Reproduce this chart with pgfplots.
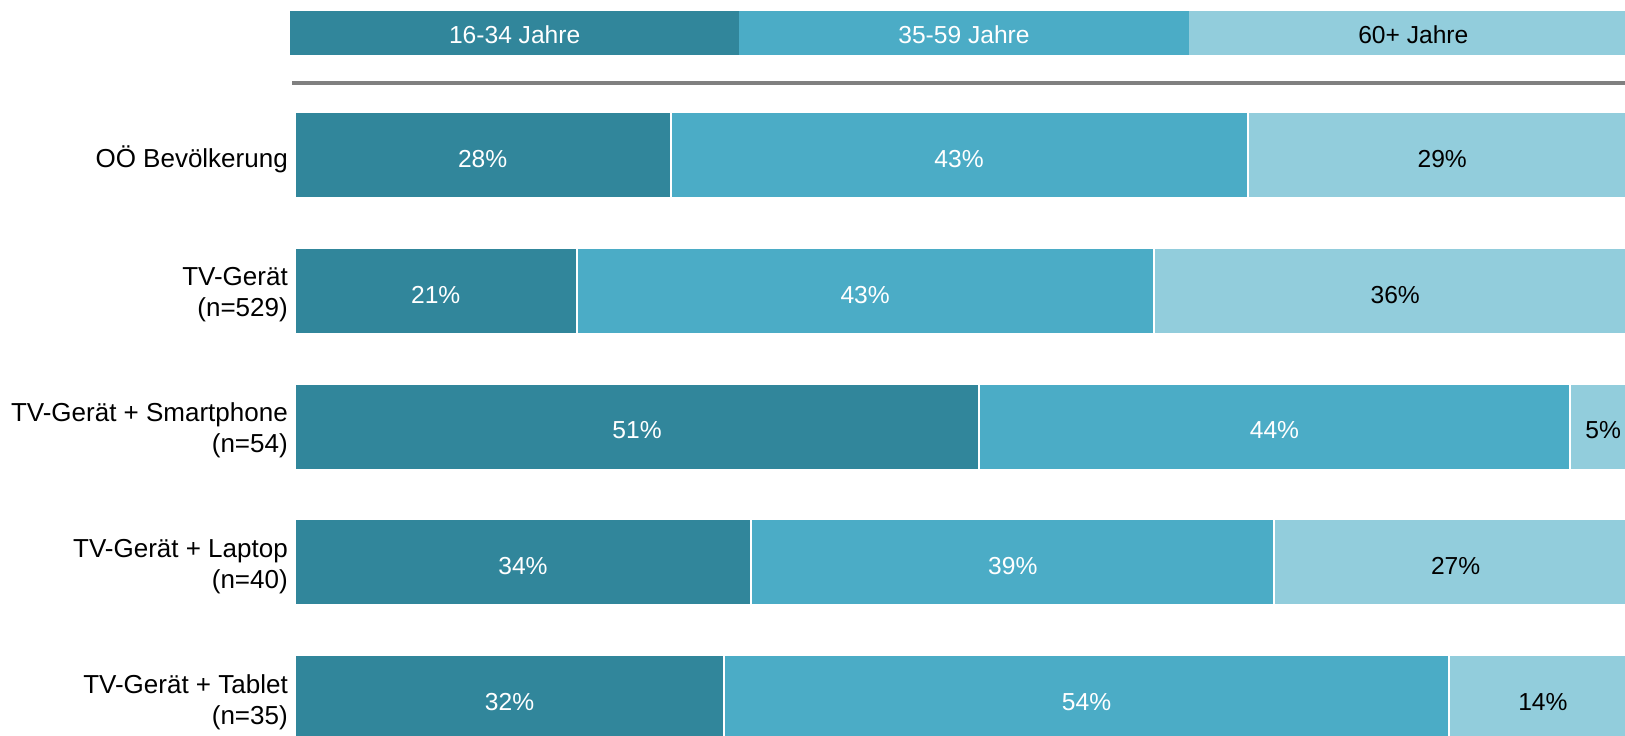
\documentclass[border=0pt]{standalone}
\usepackage{pgfplots}
\pgfplotsset{compat=1.18}
\usepackage{pgfplotstable}
\usepackage{fontspec}
\setmainfont{Liberation Sans}
\definecolor{cdark}{RGB}{49,134,155}
\definecolor{cmid}{RGB}{75,172,198}
\definecolor{clight}{RGB}{146,205,220}
\definecolor{cline}{RGB}{128,128,128}

\pgfplotstableread{
y a b c
0 28 43 29
1 21 43 36
2 51 44 5
3 34 39 27
4 32 54 14
}\datatab

\begin{document}
\begin{tikzpicture}
\useasboundingbox (0,0) rectangle (812.5bp,368bp);
\clip (0,0) rectangle (812.5bp,368bp);
% legend bar
\begin{axis}[
  at={(145bp,340.5bp)}, anchor=south west,
  scale only axis, width=674bp, height=22bp,
  xbar stacked, bar width=22bp,
  xmin=0, xmax=3, ymin=-0.5, ymax=0.5,
  hide axis, clip=false,
  nodes near coords, point meta=explicit symbolic,
  every node near coord/.style={anchor=center, yshift=-1bp, font=\fontsize{12.3bp}{14bp}\selectfont},
]
\addplot[fill=cdark, draw=none, every node near coord/.append style={text=white}] coordinates {(1,0) [16-34 Jahre]};
\addplot[fill=cmid, draw=none, every node near coord/.append style={text=white}] coordinates {(1,0) [35-59 Jahre]};
\addplot[fill=clight, draw=none, every node near coord/.append style={text=black}] coordinates {(1,0) [60+ Jahre]};
\end{axis}
% separator line
\draw[cline, line width=2bp] (146bp,326.5bp) -- (820bp,326.5bp);
% main chart
\begin{axis}[
  at={(147.4bp,0bp)}, anchor=south west,
  scale only axis, width=671bp, height=324.5bp,
  xbar stacked, bar width=43bp,
  xmin=0, xmax=100, ymin=-0.5, ymax=4.279,
  y dir=reverse,
  axis line style={draw=none}, major tick length=0pt,
  xtick=\empty,
  ytick={0,1,2,3,4},
  yticklabels={OÖ Bevölkerung, {TV-Gerät\\(n=529)}, {TV-Gerät + Smartphone\\(n=54)}, {TV-Gerät + Laptop\\(n=40)}, {TV-Gerät + Tablet\\(n=35)}},
  yticklabel style={align=right, yshift=-2bp, font=\fontsize{13bp}{15.5bp}\selectfont},
  clip=false,
  /pgf/number format/assume math mode=true,
  nodes near coords={\pgfmathprintnumber{\pgfplotspointmeta}\%},
  point meta=rawx,
  every node near coord/.style={anchor=center, yshift=-2bp, font=\fontsize{12.3bp}{14bp}\selectfont},
]
\addplot[fill=cdark, draw=white, line width=1bp, every node near coord/.append style={text=white}] table[x=a,y=y]{\datatab};
\addplot[fill=cmid, draw=white, line width=1bp, every node near coord/.append style={text=white}] table[x=b,y=y]{\datatab};
\addplot[fill=clight, draw=white, line width=1bp, every node near coord/.append style={text=black}] table[x=c,y=y]{\datatab};
\end{axis}
\end{tikzpicture}
\end{document}
